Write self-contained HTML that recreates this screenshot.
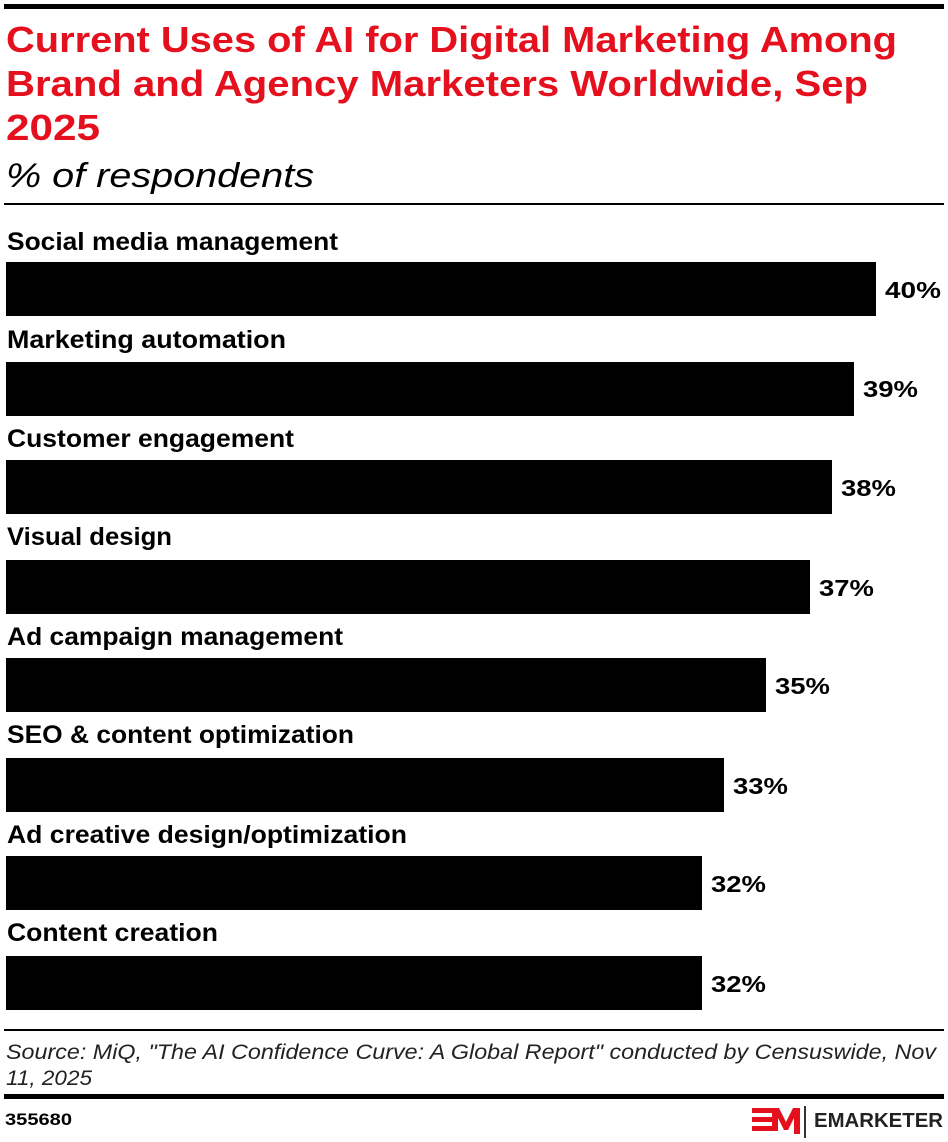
<!DOCTYPE html>
<html><head><meta charset="utf-8"><style>
body{margin:0;width:948px;height:1142px;background:#fff;position:relative;font-family:"Liberation Sans",sans-serif;overflow:hidden}
.a{position:absolute}
.bar{left:6px;height:54px;background:#000}
svg text{font-family:"Liberation Sans",sans-serif}
.l{font-weight:bold;font-size:25px;fill:#000}
.v{font-weight:bold;font-size:23px;fill:#000}
</style></head><body>
<div class="a" style="left:4px;top:4px;width:940px;height:5px;background:#000"></div>
<div class="a" style="left:4px;top:203px;width:940px;height:2px;background:#000"></div>
<div class="a bar" style="top:262px;width:870px"></div>
<div class="a bar" style="top:362px;width:848px"></div>
<div class="a bar" style="top:460px;width:826px"></div>
<div class="a bar" style="top:560px;width:804px"></div>
<div class="a bar" style="top:658px;width:760px"></div>
<div class="a bar" style="top:758px;width:718px"></div>
<div class="a bar" style="top:856px;width:696px"></div>
<div class="a bar" style="top:956px;width:696px"></div>
<div class="a" style="left:4px;top:1029px;width:940px;height:2px;background:#000"></div>
<div class="a" style="left:4px;top:1094px;width:940px;height:5px;background:#000"></div>
<svg class="a" style="left:0;top:0" width="948" height="1142">
<g font-weight="bold" font-size="36" fill="#e5101e">
<text x="6" y="52" textLength="891" lengthAdjust="spacingAndGlyphs">Current Uses of AI for Digital Marketing Among</text>
<text x="6" y="96" textLength="862" lengthAdjust="spacingAndGlyphs">Brand and Agency Marketers Worldwide, Sep</text>
<text x="6" y="140" textLength="94" lengthAdjust="spacingAndGlyphs">2025</text>
</g>
<text x="6" y="187" font-size="34" font-style="italic" textLength="308" lengthAdjust="spacingAndGlyphs">% of respondents</text>
<text class="l" x="7" y="250" textLength="331" lengthAdjust="spacingAndGlyphs">Social media management</text>
<text class="l" x="7" y="348" textLength="279" lengthAdjust="spacingAndGlyphs">Marketing automation</text>
<text class="l" x="7" y="447" textLength="287" lengthAdjust="spacingAndGlyphs">Customer engagement</text>
<text class="l" x="7" y="545" textLength="165" lengthAdjust="spacingAndGlyphs">Visual design</text>
<text class="l" x="7" y="645" textLength="336" lengthAdjust="spacingAndGlyphs">Ad campaign management</text>
<text class="l" x="7" y="743" textLength="347" lengthAdjust="spacingAndGlyphs">SEO &amp; content optimization</text>
<text class="l" x="7" y="843" textLength="400" lengthAdjust="spacingAndGlyphs">Ad creative design/optimization</text>
<text class="l" x="7" y="941" textLength="211" lengthAdjust="spacingAndGlyphs">Content creation</text>
<text class="v" x="885" y="298" textLength="56" lengthAdjust="spacingAndGlyphs">40%</text>
<text class="v" x="863" y="397" textLength="55" lengthAdjust="spacingAndGlyphs">39%</text>
<text class="v" x="841" y="496" textLength="55" lengthAdjust="spacingAndGlyphs">38%</text>
<text class="v" x="819" y="596" textLength="55" lengthAdjust="spacingAndGlyphs">37%</text>
<text class="v" x="775" y="694" textLength="55" lengthAdjust="spacingAndGlyphs">35%</text>
<text class="v" x="733" y="794" textLength="55" lengthAdjust="spacingAndGlyphs">33%</text>
<text class="v" x="711" y="892" textLength="55" lengthAdjust="spacingAndGlyphs">32%</text>
<text class="v" x="711" y="992" textLength="55" lengthAdjust="spacingAndGlyphs">32%</text>
<g font-style="italic" font-size="21" fill="#222">
<text x="6" y="1059" textLength="930" lengthAdjust="spacingAndGlyphs">Source: MiQ, "The AI Confidence Curve: A Global Report" conducted by Censuswide, Nov</text>
<text x="6" y="1085" textLength="86" lengthAdjust="spacingAndGlyphs">11, 2025</text>
</g>
<text x="5" y="1125" font-weight="bold" font-size="17" textLength="67" lengthAdjust="spacingAndGlyphs">355680</text>
<g transform="translate(750,1104)">
<rect x="2" y="4" width="20" height="5" fill="#e5101e"/><rect x="2" y="13" width="20" height="5" fill="#e5101e"/><rect x="2" y="22" width="20" height="5" fill="#e5101e"/>
<polygon points="22,4 29,4 36,18 43,4 50,4 50,30 44,30 44,14 38,26 34,26 28,14 28,27 22,27" fill="#e5101e"/>
</g>
<rect x="804" y="1106" width="2" height="32" fill="#333"/>
<text x="814" y="1127" font-weight="bold" font-size="20" fill="#222" textLength="129" lengthAdjust="spacingAndGlyphs">EMARKETER</text>
</svg>
</body></html>
